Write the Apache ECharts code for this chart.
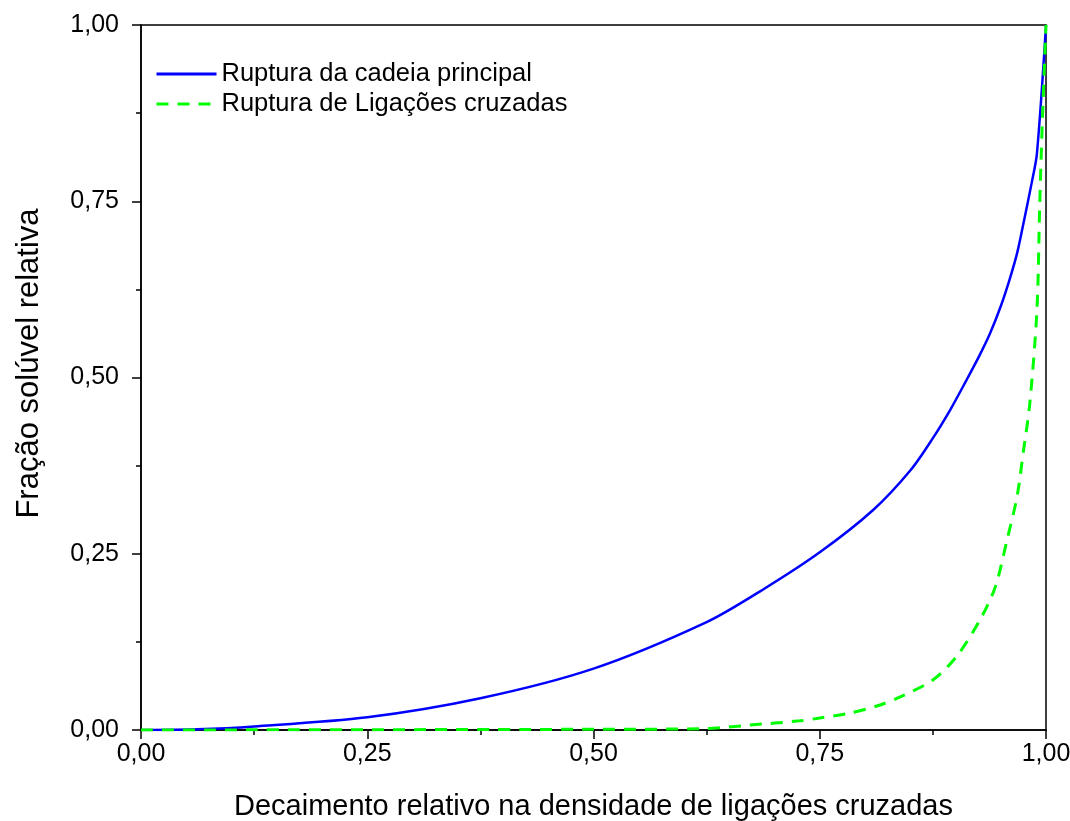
<!DOCTYPE html>
<html>
<head>
<meta charset="utf-8">
<script src="https://cdn.jsdelivr.net/npm/echarts@6/dist/echarts.min.js"></script>
<style>
  html, body { margin: 0; padding: 0; background: #fff; }
  #chart { width: 1070px; height: 821px; }
</style>
</head>
<body>
<div id="chart"></div>
<script>
const seriesNames = ['Ruptura da cadeia principal', 'Ruptura de Ligações cruzadas']

// main chain scission (blue, solid)
const xMain = [0, 0.062, 0.125, 0.25, 0.375, 0.5, 0.625, 0.687, 0.75, 0.809, 0.85, 0.875, 0.895, 0.912, 0.926, 0.938, 0.95, 0.96, 0.968, 0.975, 0.984, 0.99, 1.0]
const yMain = [0, 0.001, 0.005, 0.018, 0.045, 0.087, 0.153, 0.199, 0.252, 0.312, 0.368, 0.414, 0.456, 0.496, 0.530, 0.562, 0.601, 0.640, 0.676, 0.718, 0.775, 0.818, 1.0]

// crosslink scission (green, dashed)
const xCross = [0, 0.5, 0.625, 0.673, 0.728, 0.75, 0.783, 0.813, 0.839, 0.875, 0.901, 0.927, 0.944, 0.957, 0.968, 0.975, 0.982, 0.99, 0.993, 0.996, 1.0]
const yCross = [0, 0.001, 0.002, 0.007, 0.013, 0.017, 0.024, 0.034, 0.047, 0.071, 0.104, 0.156, 0.203, 0.270, 0.331, 0.395, 0.462, 0.596, 0.742, 0.865, 1.0]

const xTitle = 'Decaimento relativo na densidade de ligações cruzadas'
const yTitle = 'Fração solúvel relativa'

const font = '"Liberation Sans", Arial, sans-serif'
const fmt = v => v.toFixed(2).replace('.', ',')
const zip = (xs, ys) => xs.map((x, i) => [x, ys[i]])

const axisCommon = {
  type: 'value', min: 0, max: 1, interval: 0.25,
  axisLine: { show: true, lineStyle: { color: '#000', width: 1.5 } },
  axisTick: { show: true, inside: false, length: 9, lineStyle: { color: '#000', width: 1.5 } },
  minorTick: { show: true, splitNumber: 2, length: 5, lineStyle: { color: '#000', width: 1.5 } },
  splitLine: { show: false },
  axisLabel: { color: '#000', fontSize: 25, fontFamily: font, formatter: fmt, showMaxLabel: true, showMinLabel: true },
  nameLocation: 'middle',
}

const chart = echarts.init(document.getElementById('chart'))
chart.setOption({
  animation: false,
  backgroundColor: '#fff',
  grid: {
    left: 141, right: 24, top: 25, bottom: 91,
    containLabel: false, outerBoundsMode: 'none',
    show: true, borderColor: '#000', borderWidth: 1.5, backgroundColor: 'transparent',
  },
  legend: {
    orient: 'vertical', left: 150, top: 54,
    itemWidth: 60, itemHeight: 14, itemGap: 0,
    itemStyle: { opacity: 0 },
    lineStyle: { width: 3 },
    textStyle: { color: '#000', fontSize: 25.5, fontFamily: font, lineHeight: 30 },
    data: seriesNames,
  },
  xAxis: {
    ...axisCommon, name: xTitle, nameGap: 62,
    nameTextStyle: { color: '#000', fontSize: 29, fontFamily: font },
    axisLabel: { ...axisCommon.axisLabel, margin: 12 },
  },
  yAxis: {
    ...axisCommon, name: yTitle, nameGap: 96,
    nameTextStyle: { color: '#000', fontSize: 31, fontFamily: font, padding: [0, 0, 0, 28] },
    axisLabel: { ...axisCommon.axisLabel, margin: 22 },
  },
  series: [
    {
      name: seriesNames[0], type: 'line', data: zip(xMain, yMain),
      symbol: 'none', smooth: 0.3,
      lineStyle: { color: '#0000ff', width: 2.5 }, itemStyle: { color: '#0000ff' },
    },
    {
      name: seriesNames[1], type: 'line', data: zip(xCross, yCross),
      symbol: 'none', smooth: 0.3,
      lineStyle: { color: '#00ff00', width: 3, type: [12, 9] }, itemStyle: { color: '#00ff00' },
    },
  ],
})
</script>
</body>
</html>
